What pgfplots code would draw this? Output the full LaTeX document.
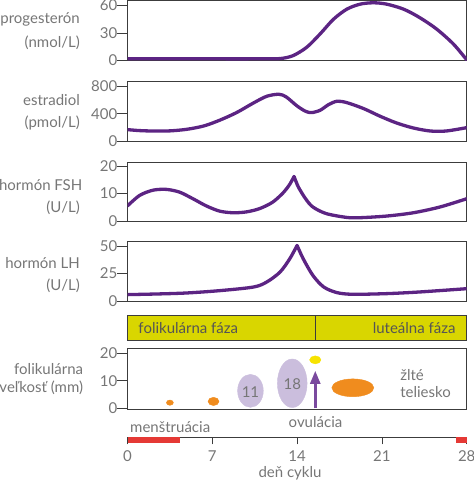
\documentclass[border=0pt]{standalone}
\usepackage{pgfplots}
\pgfplotsset{compat=1.18}
\usepackage{fontspec}
\setmainfont{Lato}
\usetikzlibrary{arrows.meta}
\definecolor{curve}{HTML}{5C2483}
\definecolor{frame}{HTML}{3C3C3C}
\definecolor{tgray}{HTML}{767676}
\definecolor{dgray}{HTML}{555555}
\definecolor{phase}{HTML}{D9D600}
\definecolor{lav}{HTML}{CBBEDD}
\definecolor{orng}{HTML}{F08C1E}
\definecolor{yel}{HTML}{F7E300}
\definecolor{arr}{HTML}{7A4A9E}
\definecolor{redbar}{HTML}{E53935}
\newcommand{\fs}{\fontsize{15}{18}\selectfont}
\pgfplotsset{
  panel/.style={scale only axis, width=339.2pt, xmin=0, xmax=28,
    anchor=south west, axis line style={draw=frame, line width=0.8pt},
    xtick=\empty, tick align=outside, major tick length=10pt, ytick pos=left,
    ytick style={draw=frame, line width=0.8pt},
    yticklabel style={font=\fs, text=tgray, inner sep=0pt, anchor=east},
    /pgf/number format/assume math mode=true,
    clip=true},
  crv/.style={curve, line width=3.3pt, smooth, tension=0.5, line cap=round, line join=round},
  ell/.style={only marks, mark=*, mark size=1pt, color=#1},
  lbl/.style={nodes near coords={#1}, every node near coord/.style={anchor=center, font=\fs, text=tgray, yshift=-1pt}}
}
\begin{document}
\begin{tikzpicture}
\path[use as bounding box] (0pt,0pt) rectangle (474pt,483pt);
% ---------- progesterone
\begin{axis}[panel, at={(127.5pt,422.5pt)}, height=60pt, ymin=0, ymax=65.5, ytick={0,30,60}]
\addplot[crv] coordinates {(0,1.8)(2,1.8)(4,1.8)(6,1.8)(8,1.8)(10,1.8)(12,1.9)(12.8,2.4)(13.7,5.5)(14.8,14.5)(15.9,29)(17,45)(18.1,56)(19.2,61.5)(20.3,63)(21.4,61.5)(22.8,56)(24.1,47)(25.5,34.5)(26.9,18)(28,0.7)};
\end{axis}
% ---------- estradiol
\begin{axis}[panel, at={(127.5pt,342pt)}, height=60pt, ymin=0, ymax=877, ytick={0,400,800}]
\addplot[crv] coordinates {(0,166)(1,152)(2.1,146)(3.5,148)(4.9,171)(6.3,220)(7.6,303)(9,415)(10.4,556)(11.5,654)(12.5,683)(13.1,644)(14,512)(14.7,434)(15.2,415)(15.9,449)(16.6,532)(17.3,581)(18.1,561)(19.5,473)(20.8,366)(22.2,264)(23.6,190)(25,146)(26.3,146)(28,195)};
\end{axis}
% ---------- FSH
\begin{axis}[panel, at={(127.5pt,262pt)}, height=58.7pt, ymin=0, ymax=21.35, ytick={0,10,20}]
\addplot[crv] coordinates {(0,5.5)(1,9.3)(2.1,11.2)(3.2,11.5)(4.3,10.5)(5.4,8.1)(6.5,5.5)(7.6,3.6)(8.7,3.0)(9.8,3.3)(10.9,4.5)(12,6.9)(12.9,10.5)(13.4,13.4)(13.75,16.2)};
\addplot[crv] coordinates {(13.75,16.2)(14.1,12.4)(14.7,8.1)(15.3,5.1)(16.4,2.7)(18.1,1.3)(19.2,1.2)(21.4,1.8)(23.6,3.0)(25.8,5.1)(28,8.1)};
\end{axis}
% ---------- LH
\begin{axis}[panel, at={(127.5pt,182pt)}, height=59.3pt, ymin=0, ymax=53.9, ytick={0,25,50}]
\addplot[crv] coordinates {(0,5.8)(2.5,6.4)(4.9,7.3)(7.6,9.4)(10.4,12.7)(11.5,17.3)(12.6,26.4)(13.4,38.5)(14,50.5)};
\addplot[crv] coordinates {(14,50.5)(14.5,38.5)(15.3,23.3)(16.2,12.7)(17.3,7.6)(18.6,6.1)(21.4,6.7)(24.1,8.2)(28,11.2)};
\end{axis}
% ---------- phase bar
\begin{axis}[panel, at={(127.5pt,142.3pt)}, height=25.7pt, ymin=0, ymax=1, ytick=\empty, axis on top]
\addplot[fill=phase, draw=none] coordinates {(0,0)(28,0)(28,1)(0,1)} -- cycle;
\addplot[frame, line width=0.8pt] coordinates {(15.5,0)(15.5,1)};
\node[anchor=west, inner sep=0pt, font=\fs, text=dgray] at (axis cs:0.89,0.5) {folikulárna fáza};
\node[anchor=east, inner sep=0pt, font=\fs, text=dgray] at (axis cs:27.09,0.5) {luteálna fáza};
\end{axis}
% ---------- follicle size
\begin{axis}[panel, at={(127.5pt,74pt)}, height=60.7pt, ymin=-0.25, ymax=21.8, ytick={0,10,20}, clip=false]
\addplot[ell=orng, mark options={xscale=3.5, yscale=2.65}] coordinates {(3.5,2.05)};
\addplot[ell=orng, mark options={xscale=5.5, yscale=4.15}] coordinates {(7.1,2.5)};
\addplot[ell=lav, mark options={xscale=12.85, yscale=16.5}, lbl=11] coordinates {(10.15,6.35)};
\addplot[ell=lav, mark options={xscale=14.85, yscale=24.3}, lbl=18] coordinates {(13.6,9.1)};
\addplot[ell=yel, mark options={xscale=5.65, yscale=4.0}] coordinates {(15.5,17.6)};
\addplot[ell=orng, mark options={xscale=21, yscale=8.9}] coordinates {(18.6,7.45)};
\addplot[arr, line width=2.6pt, -{Triangle[width=10pt,length=13pt]}] coordinates {(15.5,0)(15.5,13.6)};
\node[anchor=west, inner sep=0pt, font=\fs, text=tgray] at (axis cs:22.5,12.1) {žlté};
\node[anchor=west, inner sep=0pt, font=\fs, text=tgray] at (axis cs:22.5,6.0) {teliesko};
\end{axis}
% ---------- day axis
\begin{axis}[scale only axis, width=339.2pt, height=10pt, at={(127.5pt,45.5pt)}, anchor=south west,
  xmin=0, xmax=28, ymin=0, ymax=1, axis x line*=bottom, axis y line=none,
  axis line style={draw=frame, line width=0.8pt, -}, xtick={0,7,14,21,28},
  tick align=outside, major tick length=7pt, xtick style={draw=frame, line width=0.8pt},
  xticklabel style={font=\fs, text=tgray, inner sep=0pt, anchor=north, yshift=-6pt},
  /pgf/number format/assume math mode=true, clip=false]
\addplot[fill=redbar, draw=none] coordinates {(0,0)(4.34,0)(4.34,-0.56)(0,-0.56)} -- cycle;
\addplot[fill=redbar, draw=none] coordinates {(27.1,0)(28,0)(28,-0.56)(27.1,-0.56)} -- cycle;
\end{axis}
% ---------- texts
\begin{scope}[every node/.style={font=\fs, text=tgray, inner sep=0pt}]
\node[anchor=east] at (80pt,463.7pt) {progesterón};
\node[anchor=east] at (80pt,440.7pt) {(nmol/L)};
\node[anchor=east] at (80pt,383pt) {estradiol};
\node[anchor=east] at (80pt,360.3pt) {(pmol/L)};
\node[anchor=east] at (82.5pt,298pt) {hormón FSH};
\node[anchor=east] at (80pt,275.7pt) {(U/L)};
\node[anchor=east] at (80pt,219.7pt) {hormón LH};
\node[anchor=east] at (80pt,197pt) {(U/L)};
\node[anchor=east] at (83.3pt,113.7pt) {folikulárna};
\node[anchor=east] at (83.3pt,95.7pt) {veľkosť (mm)};
\node[anchor=west] at (130pt,56.3pt) {menštruácia};
\node at (315.5pt,61.3pt) {ovulácia};
\node at (290pt,9.7pt) {deň cyklu};
\end{scope}
\end{tikzpicture}
\end{document}
